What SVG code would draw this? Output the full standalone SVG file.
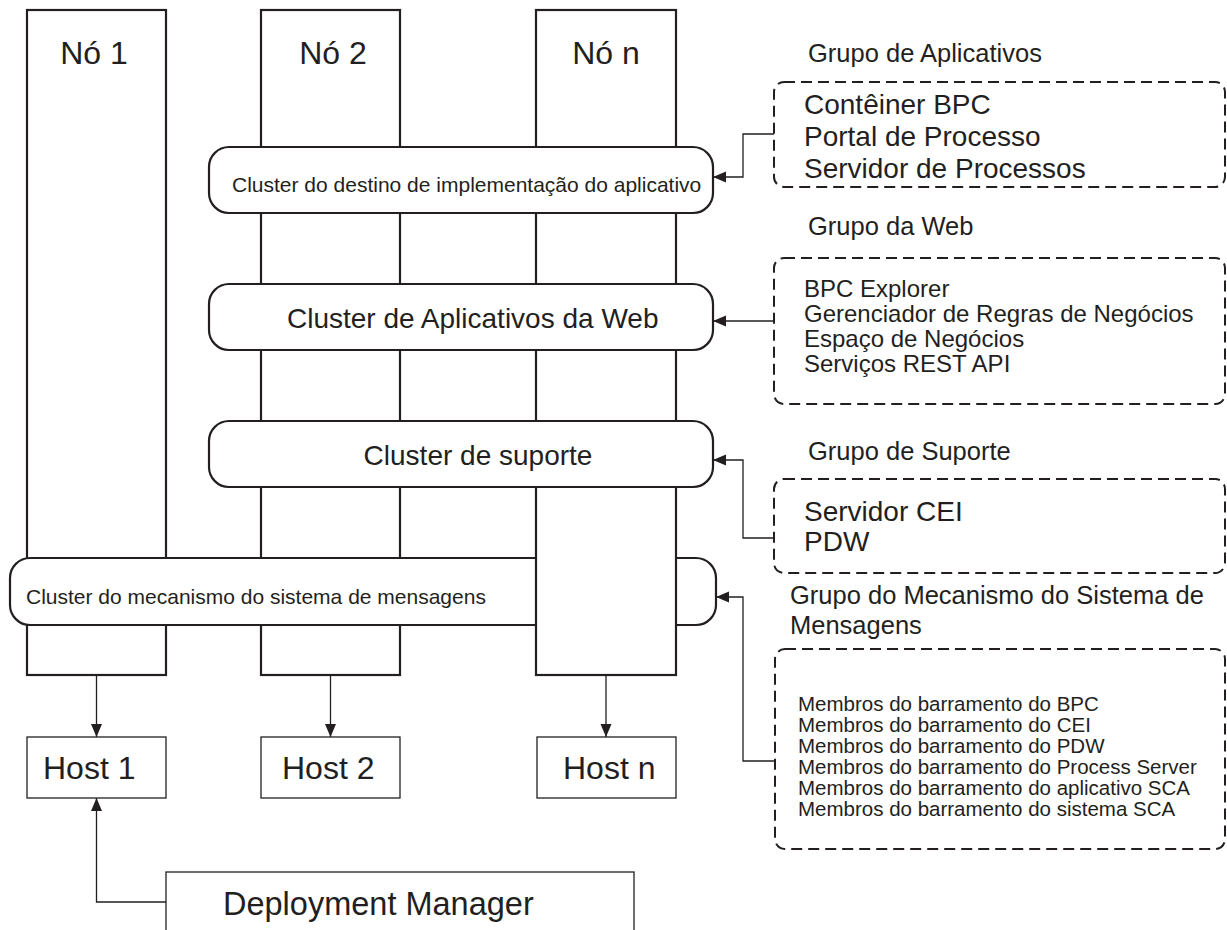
<svg xmlns="http://www.w3.org/2000/svg" width="1227" height="930" viewBox="0 0 1227 930">
  <style>
    text { font-family: "Liberation Sans", Arial, sans-serif; fill: #231f20; }
    .col { fill: #fff; stroke: #231f20; stroke-width: 2.2; }
    .cluster { fill: #fff; stroke: #231f20; stroke-width: 2.2; }
    .host { fill: #fff; stroke: #231f20; stroke-width: 1.3; }
    .group { fill: none; stroke: #231f20; stroke-width: 2; stroke-dasharray: 11 6; }
    .link { fill: none; stroke: #231f20; stroke-width: 1.3; marker-end: url(#arrow); }
    .big { font-size: 32px; }
    .lbl { font-size: 25.5px; }
    .item { font-size: 28px; }
    .web { font-size: 24px; }
    .small { font-size: 21px; }
    .member { font-size: 20.5px; }
  </style>
  <defs>
    <marker id="arrow" markerUnits="userSpaceOnUse" markerWidth="14" markerHeight="12" refX="13" refY="5.5" orient="auto">
      <path d="M0,0 L13,5.5 L0,11 z" fill="#231f20"/>
    </marker>
  </defs>
  <rect width="1227" height="930" fill="#fff"/>

  <!-- node columns (Nó n sits above the messaging cluster) -->
  <g id="node1">
    <rect class="col" x="27" y="10" width="139" height="665"/>
    <text class="big" x="94" y="64" text-anchor="middle">Nó 1</text>
  </g>
  <g id="node2">
    <rect class="col" x="261" y="10" width="139" height="665"/>
    <text class="big" x="333" y="64" text-anchor="middle">Nó 2</text>
  </g>
  <g id="cluster-messaging">
    <rect class="cluster" x="10" y="558" width="706" height="67" rx="20"/>
    <text class="small" x="26" y="604">Cluster do mecanismo do sistema de mensagens</text>
  </g>
  <g id="noden">
    <rect class="col" x="536" y="10" width="140" height="665"/>
    <text class="big" x="606" y="64" text-anchor="middle">Nó n</text>
  </g>

  <!-- clusters spanning the nodes -->
  <g id="cluster-app">
    <rect class="cluster" x="209" y="147" width="504" height="66" rx="20"/>
    <text class="small" x="232" y="192">Cluster do destino de implementação do aplicativo</text>
  </g>
  <g id="cluster-web">
    <rect class="cluster" x="209" y="284" width="504" height="66" rx="20"/>
    <text class="item" x="287" y="328">Cluster de Aplicativos da Web</text>
  </g>
  <g id="cluster-support">
    <rect class="cluster" x="209" y="421" width="504" height="66" rx="20"/>
    <text class="item" x="478" y="465" text-anchor="middle">Cluster de suporte</text>
  </g>

  <!-- hosts -->
  <g id="host1">
    <rect class="host" x="27" y="737" width="139" height="61"/>
    <text class="big" x="43" y="779">Host 1</text>
  </g>
  <g id="host2">
    <rect class="host" x="261" y="737" width="139" height="61"/>
    <text class="big" x="282" y="779">Host 2</text>
  </g>
  <g id="hostn">
    <rect class="host" x="537" y="737" width="139" height="61"/>
    <text class="big" x="563" y="779">Host n</text>
  </g>
  <g id="deployment-manager">
    <rect class="host" x="166" y="872" width="468" height="80"/>
    <text x="223" y="915" style="font-size:32.5px">Deployment Manager</text>
  </g>

  <!-- component groups -->
  <g id="group-app">
    <text class="lbl" x="808" y="62">Grupo de Aplicativos</text>
    <rect class="group" x="774" y="82" width="451" height="105" rx="10"/>
    <text class="item" x="804" y="114">Contêiner BPC</text>
    <text class="item" x="804" y="146">Portal de Processo</text>
    <text class="item" x="804" y="178">Servidor de Processos</text>
  </g>
  <g id="group-web">
    <text class="lbl" x="808" y="235">Grupo da Web</text>
    <rect class="group" x="774" y="258" width="451" height="146" rx="10"/>
    <text class="web" x="804" y="297">BPC Explorer</text>
    <text class="web" x="804" y="322">Gerenciador de Regras de Negócios</text>
    <text class="web" x="804" y="347">Espaço de Negócios</text>
    <text class="web" x="804" y="372">Serviços REST API</text>
  </g>
  <g id="group-support">
    <text class="lbl" x="808" y="460">Grupo de Suporte</text>
    <rect class="group" x="774" y="479" width="451" height="94" rx="10"/>
    <text class="item" x="804" y="521">Servidor CEI</text>
    <text class="item" x="804" y="551">PDW</text>
  </g>
  <g id="group-messaging">
    <text class="lbl" x="790" y="604">Grupo do Mecanismo do Sistema de</text>
    <text class="lbl" x="790" y="634">Mensagens</text>
    <rect class="group" x="775" y="649" width="450" height="200" rx="10"/>
    <text class="member" x="798" y="711">Membros do barramento do BPC</text>
    <text class="member" x="798" y="732">Membros do barramento do CEI</text>
    <text class="member" x="798" y="753">Membros do barramento do PDW</text>
    <text class="member" x="798" y="774">Membros do barramento do Process Server</text>
    <text class="member" x="798" y="795">Membros do barramento do aplicativo SCA</text>
    <text class="member" x="798" y="816">Membros do barramento do sistema SCA</text>
  </g>

  <!-- connectors -->
  <g id="connectors">
    <path class="link" d="M774,134 H743 V177 H713"/>
    <path class="link" d="M774,321 H713"/>
    <path class="link" d="M774,538 H743 V460 H713"/>
    <path class="link" d="M775,761 H743 V597 H716"/>
    <path class="link" d="M96.5,675 V737"/>
    <path class="link" d="M330.5,675 V737"/>
    <path class="link" d="M606,675 V737"/>
    <path class="link" d="M166,902 H96.5 V798"/>
  </g>
</svg>
